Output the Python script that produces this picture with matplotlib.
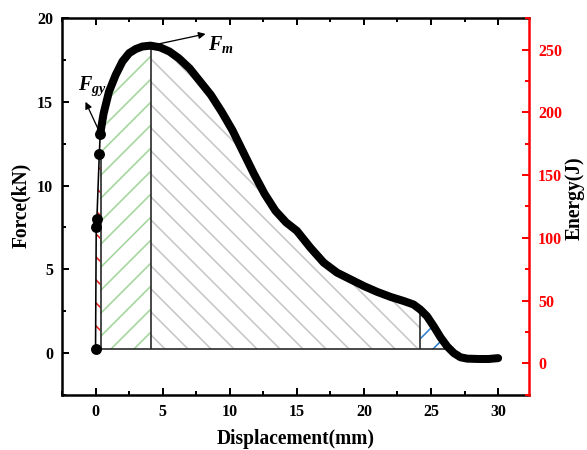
import matplotlib
matplotlib.use('Agg')
import matplotlib.pyplot as plt
from matplotlib.ticker import MultipleLocator
import numpy as np

# ---- data ----
disp = [0.0, 0.05, 0.1, 0.28, 0.35, 0.6, 1.0, 1.5, 2.0, 2.5, 3.0, 3.5, 4.1,
        4.8, 5.5, 6.2, 7.0, 7.8, 8.6, 9.4, 10.2, 11.0, 11.8, 12.6, 13.4, 14.2,
        15.0, 16.0, 17.0, 18.0, 19.0, 20.0, 21.0, 22.0, 23.0, 23.7, 24.2,
        24.7, 25.2, 25.7, 26.2, 26.7, 27.2, 27.7, 28.5, 29.3, 30.0]
force = [0.25, 7.5, 8.0, 11.9, 13.1, 14.3, 15.6, 16.6, 17.4, 17.9, 18.15, 18.3, 18.35,
         18.25, 18.0, 17.6, 17.0, 16.2, 15.4, 14.4, 13.3, 12.0, 10.7, 9.5, 8.5, 7.8,
         7.3, 6.3, 5.4, 4.8, 4.4, 4.0, 3.65, 3.35, 3.1, 2.9, 2.6,
         2.2, 1.6, 0.95, 0.4, 0.0, -0.25, -0.33, -0.35, -0.35, -0.3]
x_ticks = [0, 5, 10, 15, 20, 25, 30]
f_ticks = [0, 5, 10, 15, 20]
e_ticks = [0, 50, 100, 150, 200, 250]
x_gy = 0.35     # yield point displacement
x_m = 4.1       # maximum force displacement
x_3 = 24.2      # third stage boundary

DPI = 138
def pt(px):
    return px * 72.0 / DPI

plt.rcParams['font.family'] = ['Liberation Serif', 'DejaVu Serif']
plt.rcParams['font.weight'] = 'bold'
plt.rcParams['mathtext.fontset'] = 'custom'
plt.rcParams['mathtext.it'] = 'Liberation Serif:italic:bold'
plt.rcParams['mathtext.rm'] = 'Liberation Serif:bold'
plt.rcParams['hatch.linewidth'] = pt(1.6)

W, H = 587, 450
fig = plt.figure(figsize=(W / DPI, H / DPI), dpi=DPI)
L, R, T, B = 62, 529, 18, 395
ax = fig.add_axes([L / W, 1 - B / H, (R - L) / W, (B - T) / H])

x = np.array(disp)
y = np.array(force)
base = y[0]
i_gy = disp.index(x_gy)
i_m = disp.index(x_m)
i_3 = disp.index(x_3)

# end of the last region: where curve falls to the baseline
j = i_3
while y[j] > base:
    j += 1
x_end = x[j - 1] + (base - y[j - 1]) * (x[j] - x[j - 1]) / (y[j] - y[j - 1]) if y[j] != y[j - 1] else x[j]

# hatched regions
ax.fill_between(x[:i_gy + 1], y[:i_gy + 1], base, facecolor='none',
                edgecolor='#e8201c', hatch='\\\\', lw=0)
ax.fill_between(x[i_gy:i_m + 1], y[i_gy:i_m + 1], base, facecolor='none',
                edgecolor='#a3d69c', hatch='//', lw=0)
ax.fill_between(x[i_m:i_3 + 1], y[i_m:i_3 + 1], base, facecolor='none',
                edgecolor='#c6c6c6', hatch='\\\\', lw=0)
ax.fill_between(x[i_3:], y[i_3:], base, where=y[i_3:] >= base, interpolate=True,
                facecolor='none', edgecolor='#2f7fcf', hatch='//', lw=0)

# region outlines
olw = pt(1.6)
ax.plot([x[0], x_end], [base, base], color='#222222', lw=olw)
ax.vlines([x[i_gy] + 0.03, x[i_m], x[i_3]], base,
          [y[i_gy - 1], y[i_m], y[i_3]], colors='#222222', lw=olw)

# force curve
ax.plot(x[:i_gy + 1], y[:i_gy + 1], color='k', lw=pt(1.6))
ax.plot(x[i_gy:], y[i_gy:], color='k', lw=pt(8), solid_capstyle='round',
        solid_joinstyle='round')
ax.plot(x[:i_gy + 1], y[:i_gy + 1], 'o', color='k', ms=pt(9))

# annotations
ax.annotate('', xy=(-0.75, 15.0), xytext=(x[i_gy], y[i_gy]),
            arrowprops=dict(arrowstyle='-|>', color='k', lw=pt(1.3),
                            mutation_scale=pt(14), shrinkA=0, shrinkB=0))
ax.annotate('', xy=(8.2, 19.05), xytext=(x[i_m], y[i_m]),
            arrowprops=dict(arrowstyle='-|>', color='k', lw=pt(1.3),
                            mutation_scale=pt(14), shrinkA=0, shrinkB=0))
ax.text(-1.3, 15.9, r'$F_{gy}$', fontsize=pt(20), ha='left', va='center')
ax.text(8.4, 18.4, r'$F_{m}$', fontsize=pt(20), ha='left', va='center')

# axes
ax.set_xlim(-2.5, 32.3)
ax.set_ylim(-2.5, 20)
ax.set_xticks(x_ticks)
ax.set_yticks(f_ticks)
ax.xaxis.set_minor_locator(MultipleLocator(2.5))
ax.yaxis.set_minor_locator(MultipleLocator(2.5))
tfs = pt(16)
ax.tick_params(which='both', direction='in', top=True, right=False,
               width=pt(2), labelsize=tfs, pad=pt(9), color='k')
ax.tick_params(which='major', length=pt(7))
ax.tick_params(which='minor', length=pt(4))
for s in ['left', 'bottom', 'top']:
    ax.spines[s].set_linewidth(pt(2.5))
ax.spines['right'].set_visible(False)
for lab in ax.get_xticklabels() + ax.get_yticklabels():
    lab.set_fontweight('bold')

ax2 = ax.twinx()
ax2.set_position(ax.get_position())
ax2.set_ylim(-25.3, 275.3)
ax2.set_yticks(e_ticks)
ax2.yaxis.set_minor_locator(MultipleLocator(25))
ax2.tick_params(which='both', direction='in', colors='#ff0000', width=pt(2),
                labelsize=tfs, pad=pt(9))
ax2.tick_params(which='major', length=pt(7))
ax2.tick_params(which='minor', length=pt(4))
ax2.spines['right'].set_color('#ff0000')
ax2.spines['right'].set_linewidth(pt(2.5))
for s in ['left', 'bottom', 'top']:
    ax2.spines[s].set_visible(False)
for lab in ax2.get_yticklabels():
    lab.set_fontweight('bold')

lfs = pt(19.5)
fig.text(21 / W, 1 - 205 / H, 'Force(kN)', rotation=90, ha='center', va='center',
         fontsize=lfs, fontweight='bold')
fig.text(296 / W, 1 - 439 / H, 'Displacement(mm)', ha='center', va='center',
         fontsize=lfs, fontweight='bold')
fig.text(575 / W, 1 - 198 / H, 'Energy(J)', rotation=90, ha='center', va='center',
         fontsize=lfs, fontweight='bold')

fig.savefig('out.png', dpi=DPI)
